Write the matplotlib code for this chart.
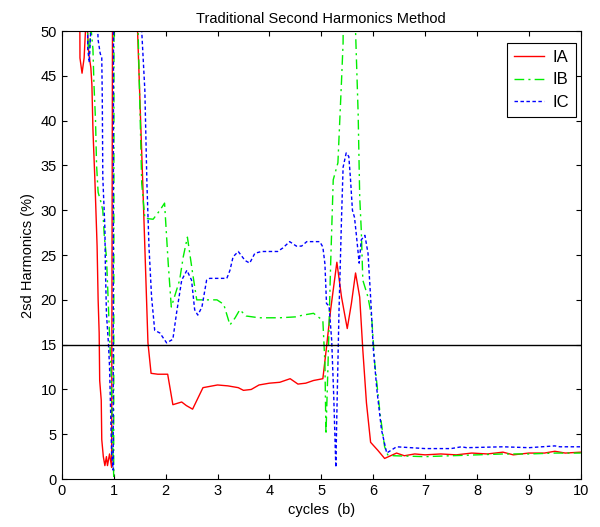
import numpy as np
import matplotlib.pyplot as plt

plt.rcParams['font.family'] = ['Liberation Sans', 'DejaVu Sans']

# IA (red, solid)
ia_x = [0.33, 0.35, 0.39, 0.43, 0.46, 0.49, 0.52, 0.56, 0.58, 0.60, 0.64, 0.68, 0.70, 0.72,
        0.73, 0.76, 0.77, 0.80, 0.83, 0.86, 0.88, 0.92, 0.96, 0.99, 1.40, 1.46, 1.56,
        1.66, 1.72, 1.85, 2.04, 2.14, 2.31, 2.40, 2.52, 2.62, 2.72, 3.00, 3.20, 3.40, 3.50,
        3.65, 3.80, 4.00, 4.20, 4.40, 4.55, 4.70, 4.85, 5.03, 5.10, 5.18, 5.30, 5.39, 5.50,
        5.58, 5.66, 5.74, 5.80, 5.87, 5.95, 6.09, 6.22, 6.45, 6.60, 6.80, 7.00, 7.30, 7.60,
        7.90, 8.20, 8.50, 8.70, 9.00, 9.30, 9.50, 9.70, 10.0]
ia_y = [80, 47, 45.3, 47, 50.5, 50.5, 47.5, 45.9, 44, 39, 33, 26, 20, 16.3,
        11, 8.8, 4.4, 2.5, 1.5, 2.5, 1.5, 2.8, 1.3, 90, 90, 50, 33,
        15.2, 11.8, 11.7, 11.7, 8.3, 8.6, 8.2, 7.8, 9.0, 10.2, 10.5, 10.4, 10.2, 9.9,
        10.0, 10.5, 10.7, 10.8, 11.2, 10.6, 10.7, 11.0, 11.2, 14.7, 18.9, 24.2, 20.3, 16.8,
        19.6, 23.0, 20.3, 14.4, 8.5, 4.1, 3.2, 2.3, 2.9, 2.6, 2.8, 2.7, 2.8, 2.7,
        2.9, 2.8, 3.0, 2.7, 2.9, 2.9, 3.1, 2.9, 3.0]

# IB (green, dash-dot)
ib_x = [0.45, 0.50, 0.53, 0.56, 0.60, 0.62, 0.65, 0.67, 0.70, 0.75, 0.79, 0.82, 0.86, 0.88,
        0.90, 0.92, 0.95, 0.98, 1.00, 1.01, 1.42, 1.47, 1.54, 1.60, 1.76, 1.89, 1.98, 2.05,
        2.11, 2.27, 2.34, 2.42, 2.52, 2.60, 2.99, 3.12, 3.24, 3.34, 3.43, 3.55, 3.80, 4.20,
        4.50, 4.65, 4.85, 5.03, 5.07, 5.09, 5.13, 5.18, 5.23, 5.32, 5.39, 5.42, 5.45, 5.62,
        5.66, 5.71, 5.74, 5.77, 5.80, 5.90, 5.97, 6.03, 6.13, 6.22, 6.28, 6.40, 7.00, 7.50,
        8.00, 8.50, 9.00, 9.50, 10.0]
ib_y = [80, 49, 47.5, 50.5, 48, 44, 40, 35, 32, 31, 30, 27, 24.8, 22,
        19, 16, 12, 4, 0.3, 90, 90, 50, 33, 29.1, 29.0, 30.0, 30.8, 24.1,
        19.2, 22.2, 24.8, 27.0, 23.0, 20.0, 20.0, 19.5, 17.2, 18.0, 18.9, 18.2, 18.0, 18.0,
        18.1, 18.3, 18.5, 17.7, 12.9, 5.0, 12.9, 24.0, 33.4, 35.3, 44.5, 48.7, 90, 90,
        50, 40.8, 31.5, 27.8, 22.2, 20.3, 18.1, 12.9, 7.4, 3.6, 2.7, 2.6, 2.5, 2.6,
        2.7, 2.8, 2.8, 2.9, 2.9]

# IC (blue, dotted)
ic_x = [0.48, 0.50, 0.53, 0.56, 0.69, 0.70, 0.74, 0.77, 0.78, 0.79, 0.83, 0.84, 0.86, 0.90,
        0.92, 0.96, 0.99, 1.00, 1.50, 1.54, 1.60, 1.64, 1.68, 1.73, 1.79, 1.89, 2.02, 2.14,
        2.21, 2.31, 2.41, 2.50, 2.56, 2.62, 2.70, 2.79, 2.85, 3.18, 3.24, 3.30, 3.40, 3.53,
        3.62, 3.72, 3.85, 4.16, 4.26, 4.39, 4.52, 4.62, 4.72, 4.97, 5.03, 5.07, 5.10, 5.15,
        5.20, 5.24, 5.28, 5.30, 5.34, 5.39, 5.42, 5.48, 5.53, 5.56, 5.60, 5.64, 5.68, 5.73,
        5.77, 5.84, 5.90, 5.95, 6.00, 6.07, 6.16, 6.26, 6.45, 7.00, 7.50, 7.70, 7.80, 8.50,
        9.00, 9.50, 9.60, 10.0]
ic_y = [70, 48, 46.5, 50.5, 50.5, 49, 47.5, 47, 42.6, 33.7, 28, 23.6, 18.5, 15,
        12.5, 2.9, 1.0, 90, 90, 50, 43.4, 33, 25.9, 20.3, 16.6, 16.3, 15.2, 15.6,
        18.5, 22.2, 23.3, 22.2, 18.9, 18.3, 19.2, 22.2, 22.4, 22.4, 23.3, 24.8, 25.4, 24.4,
        24.1, 25.2, 25.4, 25.4, 25.8, 26.5, 26.0, 26.0, 26.5, 26.5, 25.9, 24.0, 19.6, 19.3,
        15.5, 9.2, 1.3, 7.4, 18.5, 29.2, 34.8, 36.4, 36.0, 33.7, 30.0, 29.2, 27.0, 24.1,
        26.7, 27.2, 25.2, 20.3, 14.7, 10.0, 5.5, 2.9, 3.6, 3.4, 3.4, 3.6, 3.5, 3.6,
        3.5, 3.7, 3.6, 3.6]

threshold = 15

fig = plt.figure(figsize=(6, 5.27), dpi=100)
ax = fig.add_axes([0.103, 0.091, 0.865, 0.850])

ax.plot(ia_x, ia_y, color='red', lw=1, label='IA')
ax.plot(ib_x, ib_y, color='#00ee00', lw=1, linestyle=(0, (7, 3, 1.5, 3)), label='IB')
ax.plot(ic_x, ic_y, color='blue', lw=1, linestyle=(0, (2.5, 1.8)), label='IC')
ax.axhline(threshold, color='black', lw=1)

ax.set_xlim(0, 10)
ax.set_ylim(0, 50)
ax.set_xticks(range(0, 11))
ax.set_yticks(range(0, 51, 5))
ax.tick_params(direction='in', top=True, right=True, labelsize=10.5)

ax.set_title('Traditional Second Harmonics Method', fontsize=10.5)
ax.set_xlabel('cycles  (b)', fontsize=10.5)
ax.set_ylabel('2sd Harmonics (%)', fontsize=10.5)

leg = ax.legend(loc='upper right', bbox_to_anchor=(0.990, 0.973), borderaxespad=0,
                fontsize=12, fancybox=False, framealpha=1, edgecolor='black',
                handlelength=1.8, handletextpad=0.5, labelspacing=0.45)
leg.get_frame().set_linewidth(0.8)

fig.savefig('out.png', dpi=100)
